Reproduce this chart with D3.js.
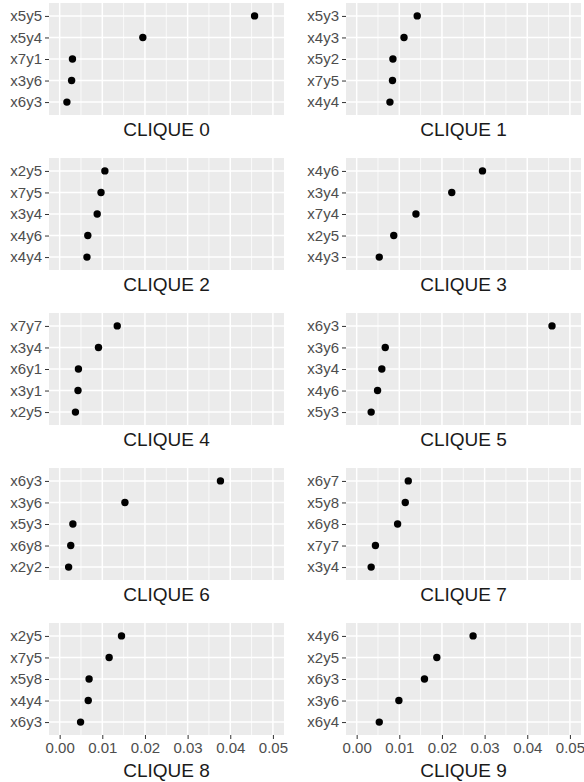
<!DOCTYPE html>
<html>
<head>
<meta charset="utf-8">
<script src="https://cdn.jsdelivr.net/npm/d3@7"></script>
<style>
  body { margin: 0; background: #fff; }
  svg { display: block; font-family: "Liberation Sans", Arial, sans-serif; }
  .y-axis text, .x-axis text { fill: #4D4D4D; font-size: 15px; }
  .y-axis line, .x-axis line { stroke: #333333; }
  .clique-title { fill: #1A1A1A; font-size: 19px; }
</style>
</head>
<body>
<div id="vis"></div>
<script>
const width = 584;
const height = 782;

const cliqueNames = ["CLIQUE 0", "CLIQUE 1", "CLIQUE 2", "CLIQUE 3", "CLIQUE 4",
                     "CLIQUE 5", "CLIQUE 6", "CLIQUE 7", "CLIQUE 8", "CLIQUE 9"];

// node labels, listed top to bottom
const cliqueNodes = [
  ["x5y5", "x5y4", "x7y1", "x3y6", "x6y3"],
  ["x5y3", "x4y3", "x5y2", "x7y5", "x4y4"],
  ["x2y5", "x7y5", "x3y4", "x4y6", "x4y4"],
  ["x4y6", "x3y4", "x7y4", "x2y5", "x4y3"],
  ["x7y7", "x3y4", "x6y1", "x3y1", "x2y5"],
  ["x6y3", "x3y6", "x3y4", "x4y6", "x5y3"],
  ["x6y3", "x3y6", "x5y3", "x6y8", "x2y2"],
  ["x6y7", "x5y8", "x6y8", "x7y7", "x3y4"],
  ["x2y5", "x7y5", "x5y8", "x4y4", "x6y3"],
  ["x4y6", "x2y5", "x6y3", "x3y6", "x6y4"]
];

const cliqueScores = [
  [0.0457, 0.0195, 0.0030, 0.0028, 0.0017],
  [0.0142, 0.0111, 0.0085, 0.0084, 0.0078],
  [0.0106, 0.0097, 0.0088, 0.0066, 0.0064],
  [0.0295, 0.0223, 0.0139, 0.0087, 0.0053],
  [0.0135, 0.0091, 0.0044, 0.0043, 0.0037],
  [0.0458, 0.0067, 0.0059, 0.0049, 0.0034],
  [0.0377, 0.0153, 0.0031, 0.0026, 0.0021],
  [0.0121, 0.0114, 0.0096, 0.0044, 0.0034],
  [0.0145, 0.0116, 0.0069, 0.0067, 0.0049],
  [0.0273, 0.0188, 0.0159, 0.0099, 0.0053]
];

const xTicks = [0, 0.01, 0.02, 0.03, 0.04, 0.05];
const xMinor = [0.005, 0.015, 0.025, 0.035, 0.045];

const panelW = 235;
const panelH = 112;
const colLeft = [49, 346];
const rowTop = 3;
const rowStep = 155;

const svg = d3.select("#vis")
    .append("svg")
    .attr("width", width)
    .attr("height", height);

cliqueNames.forEach((name, i) => {
    const col = i % 2;
    const row = Math.floor(i / 2);
    const left = colLeft[col];
    const top = rowTop + row * rowStep;
    const isBottom = row === 4;

    const x = d3.scaleLinear()
        .domain([-0.0025, 0.0526])
        .range([0, panelW]);
    const y = d3.scalePoint()
        .domain(cliqueNodes[i])
        .range([0, panelH])
        .padding(0.6);

    const g = svg.append("g")
        .attr("transform", `translate(${left},${top})`);

    g.append("rect")
        .attr("width", panelW)
        .attr("height", panelH)
        .attr("fill", "#EBEBEB");

    g.selectAll(".minor")
        .data(xMinor)
        .join("line")
        .attr("x1", d => x(d)).attr("x2", d => x(d))
        .attr("y1", 0).attr("y2", panelH)
        .attr("stroke", "#fff")
        .attr("stroke-width", 0.75);

    g.selectAll(".vmajor")
        .data(xTicks)
        .join("line")
        .attr("x1", d => x(d)).attr("x2", d => x(d))
        .attr("y1", 0).attr("y2", panelH)
        .attr("stroke", "#fff")
        .attr("stroke-width", 1.5);

    g.selectAll(".hmajor")
        .data(cliqueNodes[i])
        .join("line")
        .attr("x1", 0).attr("x2", panelW)
        .attr("y1", d => y(d)).attr("y2", d => y(d))
        .attr("stroke", "#fff")
        .attr("stroke-width", 1.5);

    const yAxis = g.append("g")
        .attr("class", "y-axis")
        .call(d3.axisLeft(y).tickSize(4).tickPadding(3));
    yAxis.select(".domain").remove();

    g.selectAll("circle")
        .data(cliqueNodes[i].map((n, j) => ({node: n, value: cliqueScores[i][j]})))
        .join("circle")
        .attr("cx", d => x(d.value))
        .attr("cy", d => y(d.node))
        .attr("r", 3.7)
        .attr("fill", "#000");

    if (isBottom) {
        const xAxis = g.append("g")
            .attr("class", "x-axis")
            .attr("transform", `translate(0,${panelH})`)
            .call(d3.axisBottom(x).tickValues(xTicks).tickFormat(d3.format(".2f")).tickSize(4).tickPadding(3));
        xAxis.select(".domain").remove();
    }

    g.append("text")
        .attr("class", "clique-title")
        .attr("text-anchor", "middle")
        .attr("x", panelW / 2)
        .attr("y", isBottom ? panelH + 42 : panelH + 20.7)
        .text(name);
});
</script>
</body>
</html>
